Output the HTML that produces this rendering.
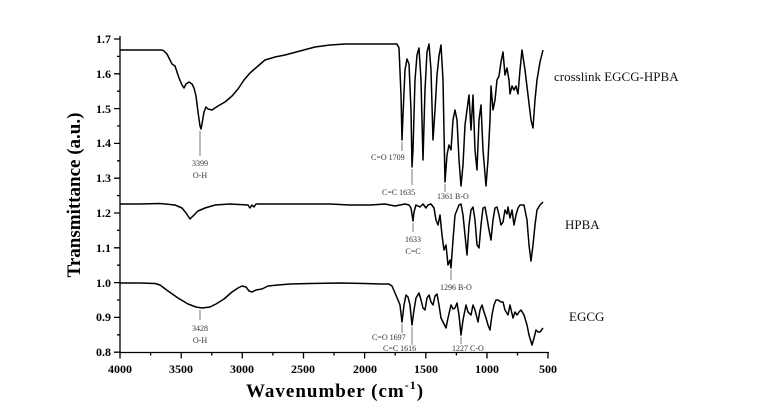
<!DOCTYPE html>
<html><head><meta charset="utf-8"><style>
html,body{margin:0;padding:0;background:#fff;}
svg{display:block;font-family:"Liberation Serif",serif;}
</style></head><body>
<svg width="768" height="415" viewBox="0 0 768 415" xmlns="http://www.w3.org/2000/svg">
<g stroke="#000" stroke-width="1.3" fill="none">
<line x1="120" y1="36" x2="120" y2="352.5"/>
<line x1="120" y1="352.5" x2="549" y2="352.5"/>
<!-- y ticks -->
<path d="M120 39h-6M120 73.8h-6M120 108.6h-6M120 143.4h-6M120 178.2h-6M120 213h-6M120 247.8h-6M120 282.6h-6M120 317.4h-6M120 352.2h-6"/>
<path d="M120 56.4h-3M120 91.2h-3M120 126h-3M120 160.8h-3M120 195.6h-3M120 230.4h-3M120 265.2h-3M120 300h-3M120 334.8h-3"/>
<!-- x ticks -->
<path d="M120 352.5v6M181.2 352.5v6M242.3 352.5v6M303.5 352.5v6M364.6 352.5v6M425.8 352.5v6M487 352.5v6M548 352.5v6"/>
<path d="M150.6 352.5v3M211.8 352.5v3M272.9 352.5v3M334 352.5v3M395.2 352.5v3M456.4 352.5v3M517.5 352.5v3"/>
</g>
<g font-size="12" font-weight="bold" text-anchor="end">
<text x="111" y="43">1.7</text><text x="111" y="78">1.6</text><text x="111" y="113">1.5</text><text x="111" y="147">1.4</text><text x="111" y="182">1.3</text><text x="111" y="217">1.2</text><text x="111" y="252">1.1</text><text x="111" y="287">1.0</text><text x="111" y="321">0.9</text><text x="111" y="356">0.8</text>
</g>
<g font-size="12" font-weight="bold" text-anchor="middle">
<text x="120" y="373">4000</text><text x="181" y="373">3500</text><text x="242" y="373">3000</text><text x="303" y="373">2500</text><text x="365" y="373">2000</text><text x="426" y="373">1500</text><text x="487" y="373">1000</text><text x="548" y="373">500</text>
</g>
<text x="335" y="397" font-size="19" font-weight="bold" text-anchor="middle" letter-spacing="1">Wavenumber (cm<tspan font-size="12" dy="-8">-1</tspan><tspan dy="8">)</tspan></text>
<text transform="translate(80,195) rotate(-90)" font-size="19" font-weight="bold" text-anchor="middle">Transmittance (a.u.)</text>

<g stroke="#000" stroke-width="1.5" fill="none" stroke-linejoin="round">
<!-- crosslink -->
<polyline points="120,50 150,50 162,50 164,51 167,54 170,60 172,64 175,66 177,72 179,78 182,85 184,88 186,84 189,82 192,84 194,88 196,96 198,112 200,126 201,129 202,124 204,112 206,107 208,109 212,110 218,106 225,102 232,96 238,89 244,80 250,73 258,66 265,60 275,57 285,55 300,51 315,47 330,45 345,44 360,44 380,44 397,44 399,48 401,95 402,140 403,115 405,70 407,59 409,64 411,110 412,167 413,150 415,80 417,55 419,48 421,80 423,160 425,90 427,52 429,44 431,70 433,140 435,110 437,75 439,56 441,45 443,80 445,182 447,155 449,145 451,150 453,120 455,110 457,120 459,160 461,186 463,165 465,125 467,110 469,95 471,130 473,95 475,150 477,170 479,120 481,105 483,150 486,186 488,160 490,120 491,86 493,110 495,100 497,80 499,76 501,62 503,52 505,75 507,68 509,80 510,94 512,86 514,90 516,86 518,94 520,70 522,50 525,70 528,95 531,120 533,128 535,100 537,80 540,62 543,50"/>
<!-- HPBA -->
<polyline points="120,204 140,204 160,203.5 175,205 182,208 186,213 190,219 193,216 198,211 205,208 215,205 230,204 248,205 250,208 252,205 254,207 256,204 275,204 300,204 330,204 350,205 370,205 385,204 395,206 405,204 409,205 411,208 413,221 414,212 416,205 420,207 423,204 426,208 428,205 431,204 434,208 436,220 438,225 440,215 442,235 444,250 446,245 448,265 450,260 451,268 453,240 455,215 457,210 459,205 461,204 463,215 465,235 467,255 469,225 471,210 473,207 475,220 477,245 479,248 481,225 483,208 485,207 487,218 489,230 491,240 493,220 495,208 497,207 499,215 501,225 503,222 505,210 507,214 508,207 510,218 512,210 514,225 516,215 518,208 520,205 524,205 527,220 529,245 531,261 533,245 535,225 537,210 540,205 543,202"/>
<!-- EGCG -->
<polyline points="120,283 140,283 155,283.5 160,285 168,291 178,298 188,304 196,307 202,308 210,307 216,304 224,299 232,292 238,288 242,286 246,287 249,291 252,292 256,290 262,289 268,286 278,285 290,284 310,283.5 340,283 365,283.5 380,284 389,284 392,286 395,293 398,300 400,305 402,322 404,305 406,295 408,297 410,305 412,325 414,310 416,298 419,293 421,300 423,308 425,310 427,298 429,295 431,302 433,305 435,296 437,294 439,305 441,318 443,322 446,328 448,318 451,305 453,309 455,308 457,303 459,315 461,335 463,320 466,305 468,312 471,315 473,305 475,310 478,322 480,310 482,305 484,312 486,318 488,325 490,330 492,315 494,305 496,300 498,300 501,302 503,302 505,310 508,315 510,305 513,318 515,312 517,315 519,312 521,310 524,315 527,325 529,335 532,345 534,338 536,330 538,332 540,332 543,328"/>
</g>
<!-- leader lines -->
<g stroke="#555" stroke-width="0.8">
<line x1="200" y1="131" x2="200" y2="156"/>
<line x1="402" y1="142" x2="402" y2="151"/>
<line x1="412" y1="169" x2="412" y2="185"/>
<line x1="445" y1="184" x2="445" y2="192"/>
<line x1="413" y1="223" x2="413" y2="232"/>
<line x1="451" y1="270" x2="451" y2="280"/>
<line x1="200" y1="310" x2="200" y2="320"/>
<line x1="402" y1="324" x2="402" y2="333"/>
<line x1="412" y1="327" x2="412" y2="345"/>
<line x1="461" y1="337" x2="461" y2="344"/>
</g>
<g font-size="8" fill="#333">
<text x="200" y="166" text-anchor="middle">3399</text><text x="200" y="178" text-anchor="middle">O-H</text>
<text x="371" y="160">C=O 1709</text>
<text x="382" y="195">C=C 1635</text>
<text x="437" y="199">1361 B-O</text>
<text x="413" y="242" text-anchor="middle">1633</text><text x="413" y="254" text-anchor="middle">C=C</text>
<text x="440" y="290">1296  B-O</text>
<text x="200" y="331" text-anchor="middle">3428</text><text x="200" y="343" text-anchor="middle">O-H</text>
<text x="372" y="340">C=O  1697</text>
<text x="383" y="351">C=C  1616</text>
<text x="452" y="351">1227 C-O</text>
</g>
<g font-size="13" fill="#111">
<text x="554" y="81">crosslink EGCG-HPBA</text>
<text x="565" y="229">HPBA</text>
<text x="569" y="321">EGCG</text>
</g>
</svg>
</body></html>
